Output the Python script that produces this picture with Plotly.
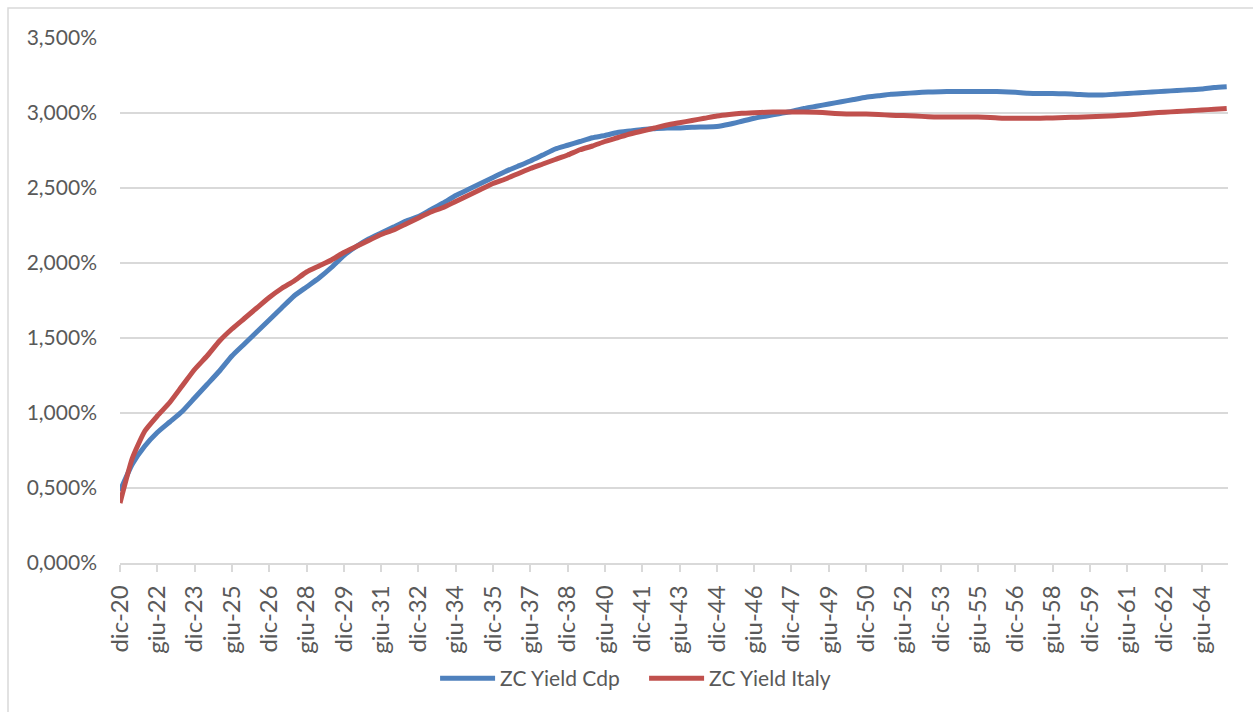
import pandas as pd
import plotly.graph_objects as go

# Semi-annual observation dates (December / June), Dec 2020 - Jun 2065
dates = pd.date_range("2020-12-01", periods=90, freq="6MS")

# Zero-coupon yield curves, in percent
zc_yield_cdp = [
    0.48, 0.66, 0.78, 0.87, 0.94, 1.01, 1.10, 1.19, 1.28, 1.38,
    1.46, 1.54, 1.62, 1.70, 1.78, 1.84, 1.90, 1.97, 2.05, 2.11,
    2.16, 2.20, 2.24, 2.28, 2.31, 2.355, 2.40, 2.45, 2.49, 2.53,
    2.57, 2.61, 2.645, 2.68, 2.72, 2.76, 2.785, 2.81, 2.835, 2.85,
    2.87, 2.88, 2.89, 2.895, 2.90, 2.90, 2.905, 2.907, 2.91, 2.925,
    2.945, 2.965, 2.98, 2.995, 3.01, 3.03, 3.045, 3.06, 3.075, 3.09,
    3.105, 3.115, 3.125, 3.13, 3.135, 3.14, 3.142, 3.143, 3.143, 3.143,
    3.143, 3.142, 3.138, 3.132, 3.13, 3.13, 3.128, 3.124, 3.12, 3.12,
    3.125, 3.13, 3.135, 3.14, 3.145, 3.15, 3.155, 3.16, 3.17, 3.175,
]

zc_yield_italy = [
    0.40, 0.70, 0.88, 0.98, 1.07, 1.18, 1.29, 1.38, 1.48, 1.56,
    1.63, 1.70, 1.77, 1.83, 1.88, 1.94, 1.98, 2.02, 2.07, 2.11,
    2.15, 2.19, 2.22, 2.26, 2.30, 2.34, 2.37, 2.41, 2.45, 2.49,
    2.53, 2.56, 2.595, 2.63, 2.66, 2.69, 2.72, 2.755, 2.78, 2.81,
    2.835, 2.86, 2.88, 2.90, 2.92, 2.935, 2.95, 2.965, 2.98, 2.99,
    2.998, 3.002, 3.005, 3.007, 3.007, 3.007, 3.005, 3.00, 2.995, 2.993,
    2.993, 2.99, 2.985, 2.983, 2.98, 2.975, 2.973, 2.973, 2.973, 2.973,
    2.97, 2.965, 2.965, 2.965, 2.965, 2.967, 2.97, 2.972, 2.975, 2.978,
    2.982, 2.987, 2.993, 3.00, 3.005, 3.01, 3.015, 3.02, 3.025, 3.03,
]

# Category-axis labels, one every 18 months
tick_dates = pd.date_range("2020-12-01", periods=30, freq="18MS")
tick_labels = [
    "dic-20", "giu-22", "dic-23", "giu-25", "dic-26", "giu-28", "dic-29",
    "giu-31", "dic-32", "giu-34", "dic-35", "giu-37", "dic-38", "giu-40",
    "dic-41", "giu-43", "dic-44", "giu-46", "dic-47", "giu-49", "dic-50",
    "giu-52", "dic-53", "giu-55", "dic-56", "giu-58", "dic-59", "giu-61",
    "dic-62", "giu-64",
]

y_ticks = [0, 0.5, 1.0, 1.5, 2.0, 2.5, 3.0, 3.5]
y_tick_labels = ["0,000%", "0,500%", "1,000%", "1,500%",
                 "2,000%", "2,500%", "3,000%", "3,500%"]

FONT = "Lato"
TEXT = "#595959"
GRID = "#D9D9D9"

fig = go.Figure()
fig.add_trace(go.Scatter(
    x=dates, y=zc_yield_cdp, mode="lines", name="ZC Yield Cdp",
    line=dict(color="#4F81BD", width=5, shape="spline", smoothing=0.5),
))
fig.add_trace(go.Scatter(
    x=dates, y=zc_yield_italy, mode="lines", name="ZC Yield Italy",
    line=dict(color="#C0504D", width=5, shape="spline", smoothing=0.5),
))

fig.update_layout(
    width=1253, height=712,
    margin=dict(l=120, r=25, t=38, b=149),
    paper_bgcolor="white", plot_bgcolor="white",
    separators=",.",
    font=dict(family=FONT, size=21, color=TEXT),
    showlegend=True,
    legend=dict(
        orientation="h", x=0.473, xanchor="center", y=-0.22, yanchor="middle",
        font=dict(family=FONT, size=21, color=TEXT),
        itemwidth=55, entrywidth=139, bgcolor="rgba(0,0,0,0)",
    ),
    shapes=[dict(
        type="rect", xref="paper", yref="paper",
        x0=-112 / 1108, x1=1.1, y0=-0.3, y1=1 + 30 / 525,
        line=dict(color=GRID, width=1.5), layer="below",
    )],
)

fig.update_xaxes(
    type="date",
    range=["2020-12-01", "2065-06-20"],
    tickmode="array", tickvals=tick_dates, ticktext=tick_labels,
    tickangle=-90,
    ticks="outside", ticklen=7, tickcolor=GRID, tickwidth=1.5,
    ticklabelstandoff=4,
    showline=True, linecolor=GRID, linewidth=1.5,
    showgrid=False, zeroline=False,
    tickfont=dict(family=FONT, size=24, color=TEXT),
)

fig.update_yaxes(
    range=[0, 3.5],
    tickmode="array", tickvals=y_ticks, ticktext=y_tick_labels,
    showgrid=True, gridcolor=GRID, gridwidth=1.5,
    showline=False, zeroline=False, ticks="",
    ticklabelstandoff=22,
    tickfont=dict(family=FONT, size=21, color=TEXT),
)

fig.write_html("out.html")
